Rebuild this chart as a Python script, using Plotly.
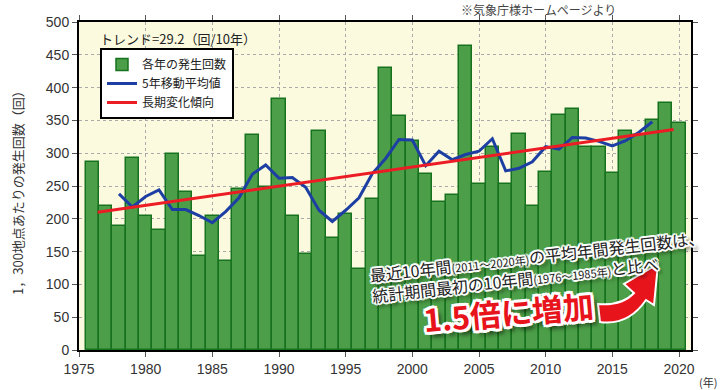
import plotly.graph_objects as go

# ---- data ----
years = list(range(1976, 2021))
counts = [286, 220, 189, 293, 204, 183, 299, 241, 144, 205,
          135, 246, 327, 248, 383, 204, 147, 334, 171, 207,
          123, 230, 430, 357, 319, 269, 226, 236, 464, 253,
          310, 253, 330, 220, 272, 359, 368, 309, 310, 270,
          334, 328, 351, 377, 346]
ma_years = list(range(1978, 2019))
ma_values = [238, 218, 234, 244, 214, 214, 205, 194, 211, 232,
             268, 282, 262, 263, 248, 213, 196, 213, 232, 269,
             292, 321, 320, 281, 303, 290, 298, 303, 322, 273,
             277, 287, 310, 306, 324, 323, 318, 311, 319, 332, 348]
trend_x = [1976.4, 2019.6]
trend_y = [210, 336]
x_ticks = [1975, 1980, 1985, 1990, 1995, 2000, 2005, 2010, 2015, 2020]
y_ticks = [0, 50, 100, 150, 200, 250, 300, 350, 400, 450, 500]

# ---- layout geometry ----
W, H = 720, 390
ML, MR, MT, MB = 79, 29, 22, 40
XR = [1975, 2020.9]
YR = [0, 500]
PW = W - ML - MR
PH = H - MT - MB

def dx(px):
    return XR[0] + (px - ML) / PW * (XR[1] - XR[0])

def dy(py):
    return YR[0] + (MT + PH - py) / PH * (YR[1] - YR[0])

def px_(px):
    return (px - ML) / PW

def py_(py):
    return (MT + PH - py) / PH

JP = "Noto Sans CJK JP"
NUM = "Liberation Sans, Arial, sans-serif"

fig = go.Figure()
fig.add_trace(go.Bar(
    x=years, y=counts, width=1.0, name="各年の発生回数",
    marker=dict(color="#4c9f48", line=dict(color="#17721f", width=1.5)),
))
fig.add_trace(go.Scatter(
    x=ma_years, y=ma_values, mode="lines", name="5年移動平均値",
    line=dict(color="#1d3fa3", width=3),
))
fig.add_trace(go.Scatter(
    x=trend_x, y=trend_y, mode="lines", name="長期変化傾向",
    line=dict(color="#ec1c24", width=3),
))

white_outline = ("-1.5px -1.5px 0 #fff, 1.5px -1.5px 0 #fff, -1.5px 1.5px 0 #fff, "
                 "1.5px 1.5px 0 #fff, 0 2px 0 #fff, 2px 0 0 #fff, 0 -2px 0 #fff, -2px 0 0 #fff, "
                 "3px 4px 4px rgba(0,0,0,0.75)")
red_outline = ("-2.5px -2.5px 0 #fff, 2.5px -2.5px 0 #fff, -2.5px 2.5px 0 #fff, "
               "2.5px 2.5px 0 #fff, 0 3px 0 #fff, 3px 0 0 #fff, 0 -3px 0 #fff, -3px 0 0 #fff, "
               "4px 5px 5px rgba(0,0,0,0.75)")

annotations = [
    dict(text="トレンド=29.2（回/10年）", x=px_(98), y=py_(38), xref="paper", yref="paper",
         xanchor="left", yanchor="middle", showarrow=False,
         font=dict(family=JP, size=13, color="#222")),
    dict(text="※気象庁様ホームページより", x=px_(538), y=py_(10), xref="paper", yref="paper",
         xanchor="center", yanchor="middle", showarrow=False,
         font=dict(family=JP, size=12, color="#444")),
    dict(text="(年)", x=px_(708), y=py_(382), xref="paper", yref="paper",
         xanchor="center", yanchor="middle", showarrow=False,
         font=dict(family=JP, size=11, color="#333")),
    dict(text="1，300地点あたりの発生回数（回）", x=px_(17), y=py_(190), xref="paper", yref="paper",
         xanchor="center", yanchor="middle", showarrow=False, textangle=-90,
         font=dict(family=JP, size=13, color="#333")),
    dict(text=('最近10年間<span style="font-size:11px">(2011～2020年)</span>の平均年間発生回数は、<br>'
               '統計期間最初の10年間<span style="font-size:11px">(1976～1985年)</span>と比べ'),
         x=dx(538), y=dy(266), xref="x", yref="y", align="left",
         xanchor="center", yanchor="middle", showarrow=False, textangle=-6.5,
         font=dict(family=JP, size=16, color="#222", shadow=white_outline)),
    dict(text="1.5倍に増加", x=dx(508), y=dy(311), xref="x", yref="y",
         xanchor="center", yanchor="middle", showarrow=False, textangle=-5,
         font=dict(family=JP, size=31, color="#e8141c", weight="bold",
                   shadow=red_outline)),
]

# curved arrow (decoration), defined in pixels then converted
arrow_px = [("M", 598, 304), ("Q", 622, 306, 634, 293), ("L", 624, 284), ("L", 658, 264),
            ("L", 654, 305), ("L", 646, 300), ("Q", 628, 326, 600, 322)]
parts = []
for seg in arrow_px:
    cmd = seg[0]
    pts = seg[1:]
    coords = []
    for i in range(0, len(pts), 2):
        coords.append(f"{dx(pts[i]):.4f},{dy(pts[i+1]):.4f}")
    parts.append(cmd + " " + " ".join(coords))
arrow_path = " ".join(parts) + " Z"

shapes = [
    dict(type="path", path=arrow_path, xref="x", yref="y",
         fillcolor="#e8141c", line=dict(color="#ffffff", width=2)),
]

fig.update_layout(
    width=W, height=H,
    margin=dict(l=ML, r=MR, t=MT, b=MB),
    paper_bgcolor="white", plot_bgcolor="#fbfadf",
    bargap=0, showlegend=True,
    legend=dict(x=px_(100), y=py_(48), xanchor="left", yanchor="top",
                bgcolor="white", bordercolor="black", borderwidth=2,
                font=dict(family=JP, size=12, color="#222"), tracegroupgap=0),
    annotations=annotations, shapes=shapes,
    xaxis=dict(range=XR, tickvals=x_ticks, ticks="outside", ticklen=5, tickcolor="#555",
               showline=True, linecolor="black", linewidth=2, mirror="ticks",
               showgrid=True, gridcolor="#aaa", griddash="dot", gridwidth=1, zeroline=False,
               tickfont=dict(family=NUM, size=14, color="#333")),
    yaxis=dict(range=YR, tickvals=y_ticks, ticks="outside", ticklen=5, tickcolor="#555",
               showline=True, linecolor="black", linewidth=2, mirror="ticks",
               showgrid=True, gridcolor="#aaa", griddash="dot", gridwidth=1, zeroline=False,
               tickfont=dict(family=NUM, size=14, color="#333")),
)

fig.write_html("out.html", config={"displayModeBar": False},
               post_script="document.body.style.margin='0';")
